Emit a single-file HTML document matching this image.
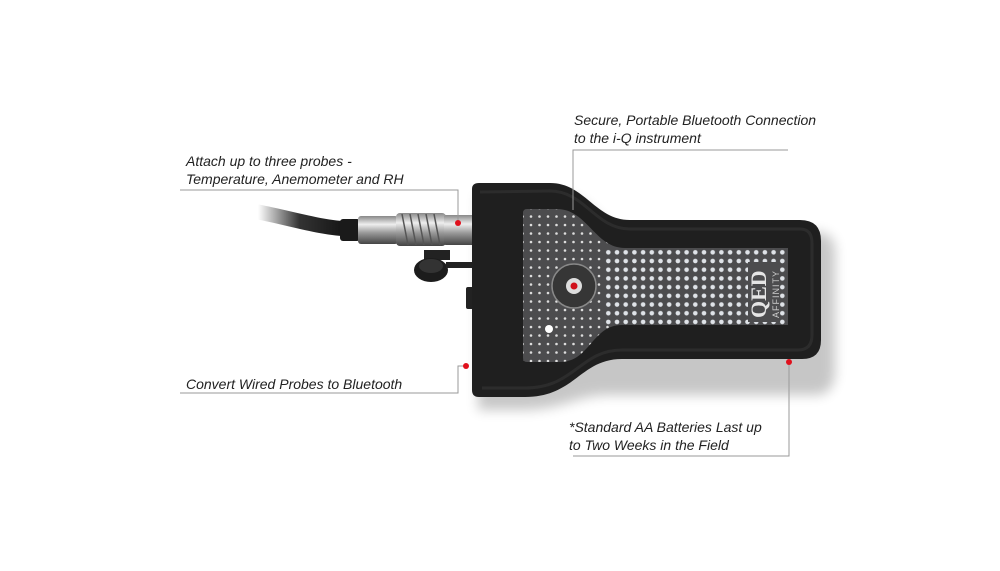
<!DOCTYPE html>
<html><head><meta charset="utf-8"><style>
html,body{margin:0;padding:0;background:#fff;}
svg{display:block}
text{font-family:"Liberation Sans",sans-serif;font-style:italic;font-size:14px;fill:#222;}
</style></head><body>
<svg width="1000" height="571" viewBox="0 0 1000 571" xmlns="http://www.w3.org/2000/svg">
<defs>
<linearGradient id="silver" x1="0" y1="0" x2="0" y2="1">
<stop offset="0" stop-color="#888"/><stop offset="0.3" stop-color="#eee"/><stop offset="0.6" stop-color="#999"/><stop offset="1" stop-color="#444"/>
</linearGradient>
<linearGradient id="cable" x1="0" y1="0" x2="1" y2="0">
<stop offset="0" stop-color="#fff"/><stop offset="0.45" stop-color="#333"/><stop offset="1" stop-color="#111"/>
</linearGradient>
<pattern id="dots" x="0" y="0" width="8.5" height="8.5" patternUnits="userSpaceOnUse">
<circle cx="4" cy="4" r="1.3" fill="#ddd"/>
</pattern>
<pattern id="bdots" x="604" y="248" width="8.7" height="8.7" patternUnits="userSpaceOnUse">
<circle cx="4.3" cy="4.3" r="2.3" fill="#dfe3e8"/>
</pattern>
<clipPath id="pc"><path d="M523,213 Q523,209 527,209 L557,209 C587,209 595,248 625,248 L788,248 L788,325 L622,325 C592,325 590,362 560,362 L527,362 Q523,362 523,358 Z"/></clipPath>
<filter id="sh" x="-20%" y="-20%" width="140%" height="150%"><feGaussianBlur stdDeviation="6"/></filter>
</defs>

<!-- shadow -->
<path d="M478,195 L560,195 C590,195 600,232 630,232 L815,232 Q835,232 835,252 L835,370 Q835,395 815,395 L610,395 C575,395 565,410 520,410 L478,410 Z" fill="#000" opacity="0.22" filter="url(#sh)"/>

<!-- cable -->
<path d="M258,212 C290,218 320,228 350,229" stroke="url(#cable)" stroke-width="15" fill="none" stroke-linecap="round"/>
<rect x="340" y="219" width="20" height="22" rx="3" fill="#1a1a1a"/>
<rect x="358" y="216" width="40" height="28" rx="3" fill="url(#silver)"/>
<rect x="396" y="213" width="50" height="33" rx="4" fill="url(#silver)"/>
<g stroke="#555" stroke-width="1.5">
<line x1="402" y1="214" x2="408" y2="245"/><line x1="410" y1="214" x2="416" y2="245"/><line x1="418" y1="214" x2="424" y2="245"/><line x1="426" y1="214" x2="432" y2="245"/><line x1="434" y1="214" x2="440" y2="245"/>
</g>
<rect x="444" y="215" width="30" height="30" rx="2" fill="url(#silver)"/>
<!-- cap -->
<rect x="424" y="250" width="26" height="10" fill="#222"/>
<ellipse cx="431" cy="270" rx="17" ry="12" fill="#1c1c1c"/>
<ellipse cx="431" cy="266" rx="12" ry="7" fill="#333"/>
<rect x="446" y="262" width="28" height="6" fill="#222"/>
<rect x="466" y="287" width="8" height="22" rx="2" fill="#222"/>

<!-- body -->
<path d="M472,189 Q472,183 479,183 L550,183 C585,183 595,220 630,220 L800,220 Q821,220 821,241 L821,340 Q821,359 802,359 L622,359 C580,359 575,397 525,397 L479,397 Q472,397 472,390 Z" fill="#1f1f1f"/>
<path d="M480,192 L550,191 C585,191 595,229 630,229 L800,229 Q812,229 812,243 L812,335 Q812,350 798,350 L622,350 C580,350 575,388 525,388 L482,388" stroke="#2c2c2c" stroke-width="3" fill="none"/>

<!-- panel -->
<path d="M523,213 Q523,209 527,209 L557,209 C587,209 595,248 625,248 L788,248 L788,325 L622,325 C592,325 590,362 560,362 L527,362 Q523,362 523,358 Z" fill="#4c4c4e"/>
<g clip-path="url(#pc)">
<rect x="523" y="209" width="82" height="155" fill="url(#dots)"/>
<rect x="605" y="209" width="30" height="39" fill="url(#dots)"/>
<rect x="605" y="325" width="30" height="40" fill="url(#dots)"/>
<rect x="604" y="248" width="184" height="77" fill="url(#bdots)"/>
</g>
<!-- logo area -->
<rect x="748" y="262" width="21" height="60" fill="#4c4c4e"/>
<rect x="770" y="262" width="10" height="60" fill="#4c4c4e"/>
<text x="0" y="0" transform="translate(766,318) rotate(-90)" style="font-style:normal;font-family:'Liberation Serif',serif;font-weight:bold;font-size:22px;fill:#e5e5e5">QED</text>
<text x="0" y="0" transform="translate(779,318) rotate(-90)" style="font-style:normal;font-size:9px;fill:#ccc;letter-spacing:1px">AFFINITY</text>
<!-- button -->
<circle cx="574" cy="286" r="22" fill="#363636" stroke="#888" stroke-width="1.5"/>
<circle cx="574" cy="286" r="8" fill="#ddd"/>
<circle cx="574" cy="286" r="3.5" fill="#d0101a"/>
<circle cx="549" cy="329" r="4" fill="#fff"/>

<!-- callout lines -->
<g stroke="#999" stroke-width="1" fill="none">
<polyline points="573,210 573,150 788,150"/>
<polyline points="180,190 458,190 458,222"/>
<polyline points="180,393 458,393 458,366 466,366"/>
<polyline points="573,456 789,456 789,362"/>
</g>
<g fill="#e0101c">
<circle cx="458" cy="223" r="3"/>
<circle cx="466" cy="366" r="3"/>
<circle cx="789" cy="362" r="3"/>
</g>

<text x="574" y="125">Secure, Portable Bluetooth Connection</text>
<text x="574" y="143">to the i-Q instrument</text>
<text x="186" y="166">Attach up to three probes -</text>
<text x="186" y="184">Temperature, Anemometer and RH</text>
<text x="186" y="389">Convert Wired Probes to Bluetooth</text>
<text x="569" y="432">*Standard AA Batteries Last up</text>
<text x="569" y="450">to Two Weeks in the Field</text>
</svg>
</body></html>
